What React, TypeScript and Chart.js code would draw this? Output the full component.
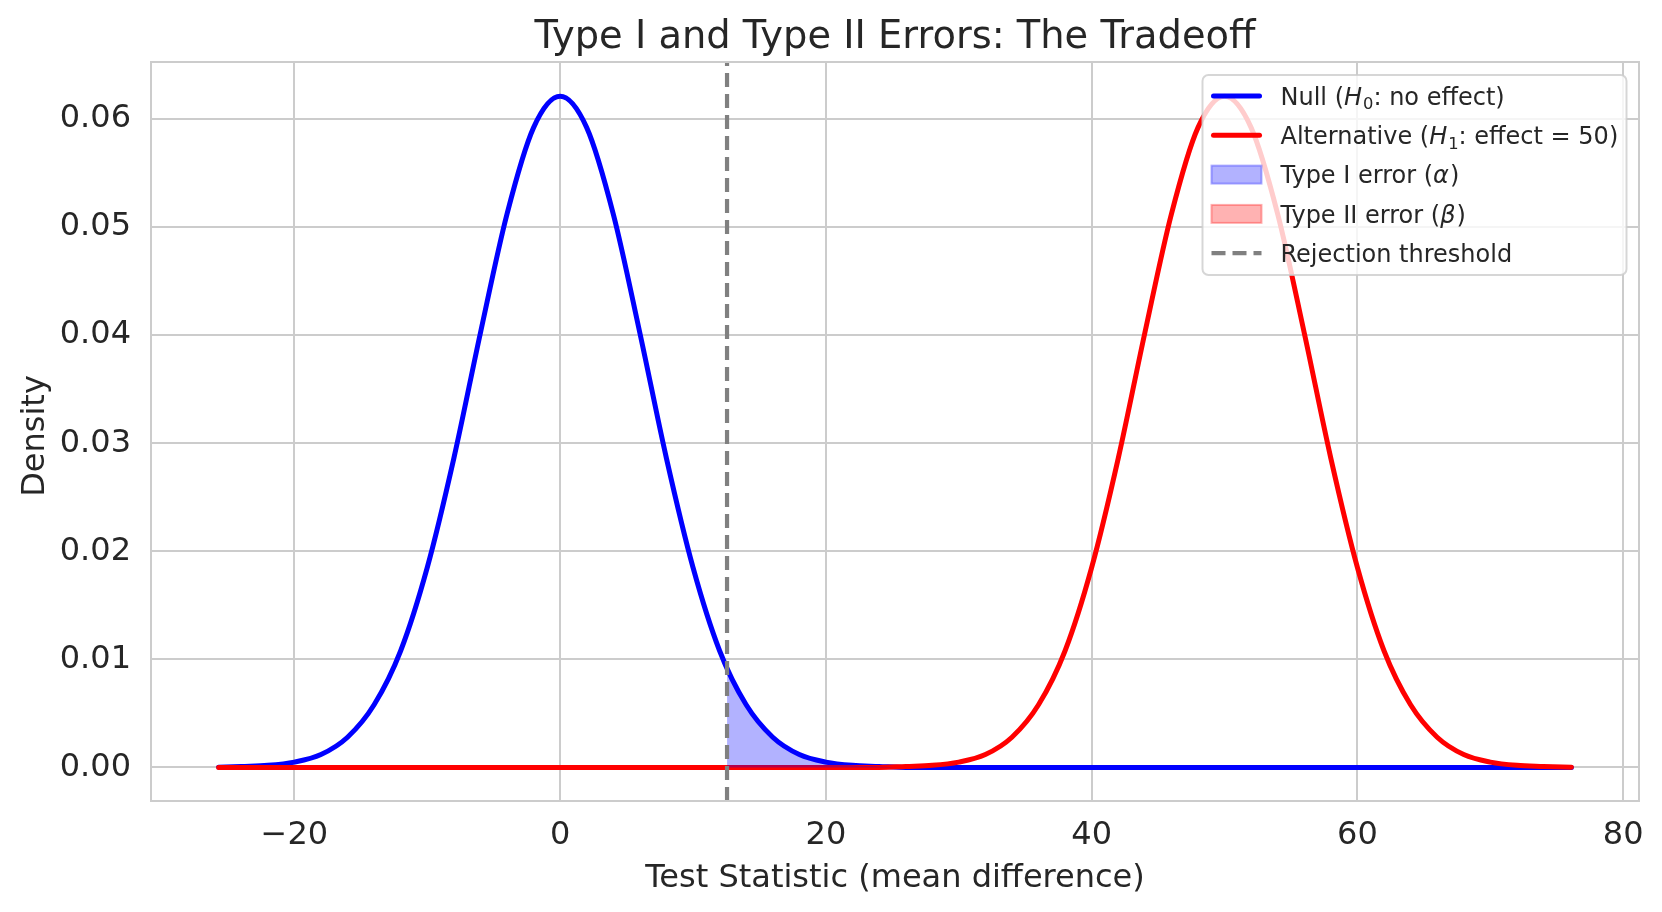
import React, { useEffect, useRef } from 'react';
import { Chart, registerables } from 'chart.js';

Chart.register(...registerables);

// ---- data ----
const X_VALUES = [
  -25.7, -24, -22, -20, -18, -16, -14, -12, -10, -8, -6, -4, -2, 0, 2, 4, 6, 8, 10, 12, 14, 16, 18, 20, 22, 24,
  26, 28, 30, 32, 34, 36, 38, 40, 42, 44, 46, 48, 50, 52, 54, 56, 58, 60, 62, 64, 66, 68, 70, 72, 74, 76.1,
];
const NULL_DENSITY = [
  0.00002, 0.0001, 0.0002, 0.0005, 0.0012, 0.0028, 0.0058, 0.0108, 0.0185, 0.0286, 0.0402, 0.0512, 0.0592, 0.0621,
  0.0592, 0.0512, 0.0402, 0.0286, 0.0185, 0.0108, 0.0058, 0.0028, 0.0012, 0.0005, 0.0002, 0.0001,
  0, 0, 0, 0, 0, 0, 0, 0, 0, 0, 0, 0, 0, 0, 0, 0, 0, 0, 0, 0, 0, 0, 0, 0, 0, 0,
];
const ALT_DENSITY = [
  0, 0, 0, 0, 0, 0, 0, 0, 0, 0, 0, 0, 0, 0, 0, 0, 0, 0, 0, 0, 0, 0, 0, 0, 0, 0,
  0.0001, 0.0002, 0.0005, 0.0012, 0.0028, 0.0058, 0.0108, 0.0185, 0.0286, 0.0402, 0.0512, 0.0592, 0.0621,
  0.0592, 0.0512, 0.0402, 0.0286, 0.0185, 0.0108, 0.0058, 0.0028, 0.0012, 0.0005, 0.0002, 0.0001, 0.00002,
];
const THRESHOLD = 12.56;
const TYPE1_X = [
  12.56, 14, 16, 18, 20, 22, 24, 26, 28, 30, 32, 34, 36, 38, 40, 42, 44, 46, 48, 50, 52, 54, 56, 58, 60, 62, 64,
  66, 68, 70, 72, 74, 76.1,
];
const TYPE1_DENSITY = [
  0.0091, 0.0058, 0.0028, 0.0012, 0.0005, 0.0002, 0.0001,
  0, 0, 0, 0, 0, 0, 0, 0, 0, 0, 0, 0, 0, 0, 0, 0, 0, 0, 0, 0, 0, 0, 0, 0, 0, 0,
];
const TYPE2_X = [-25.7, -24, -22, -20, -18, -16, -14, -12, -10, -8, -6, -4, -2, 0, 2, 4, 6, 8, 10, 12, 12.56];
const TYPE2_DENSITY = [0, 0, 0, 0, 0, 0, 0, 0, 0, 0, 0, 0, 0, 0, 0, 0, 0, 0, 0, 0, 0];

const X_TICKS = [-20, 0, 20, 40, 60, 80];
const Y_TICKS = [0, 0.01, 0.02, 0.03, 0.04, 0.05, 0.06];
const X_MIN = -30.79;
const X_MAX = 81.19;
const Y_MIN = -0.0031;
const Y_MAX = 0.06527;

const TITLE = 'Type I and Type II Errors: The Tradeoff';
const X_LABEL = 'Test Statistic (mean difference)';
const Y_LABEL = 'Density';

type Seg = { t: string; it?: boolean; sub?: boolean };
const LEGEND_LABELS: Seg[][] = [
  [{ t: 'Null (' }, { t: 'H', it: true }, { t: '0', sub: true }, { t: ': no effect)' }],
  [{ t: 'Alternative (' }, { t: 'H', it: true }, { t: '1', sub: true }, { t: ': effect = 50)' }],
  [{ t: 'Type I error (' }, { t: 'α', it: true }, { t: ')' }],
  [{ t: 'Type II error (' }, { t: 'β', it: true }, { t: ')' }],
  [{ t: 'Rejection threshold' }],
];

const FONT = '"DejaVu Sans", "Liberation Sans", sans-serif';
const TEXT = '#262626';
const GRID = '#cccccc';
const BLUE = '#0000ff';
const RED = '#ff0000';
const GRAY = '#808080';
const BLUE_FILL = 'rgba(0,0,255,0.3)';
const RED_FILL = 'rgba(255,0,0,0.3)';
const DASH = [14, 7];

const pts = (xs: number[], ys: number[]) => xs.map((x, i) => ({ x, y: ys[i] }));

function drawRich(ctx: CanvasRenderingContext2D, segs: Seg[], x: number, baseline: number, size: number) {
  let cx = x;
  for (const s of segs) {
    const fs = s.sub ? size * 0.68 : size;
    ctx.font = `${s.it ? 'italic ' : ''}${fs}px ${FONT}`;
    const dy = s.sub ? size * 0.19 : 0;
    ctx.fillText(s.t, cx, baseline + dy);
    cx += ctx.measureText(s.t).width + (s.it ? 1 : 0);
  }
}

const decorPlugin = {
  id: 'decor',
  afterDatasetsDraw(chart: any) {
    const { ctx, chartArea: a } = chart;
    ctx.save();
    ctx.strokeStyle = GRID;
    ctx.lineWidth = 2;
    ctx.strokeRect(a.left, a.top, a.right - a.left, a.bottom - a.top);
    ctx.restore();
  },
  afterDraw(chart: any) {
    const { ctx, chartArea: a } = chart;
    ctx.save();
    // title
    ctx.fillStyle = TEXT;
    ctx.font = `38.4px ${FONT}`;
    ctx.textAlign = 'center';
    ctx.textBaseline = 'alphabetic';
    ctx.fillText(TITLE, (a.left + a.right) / 2, 48);

    // y axis label
    ctx.save();
    ctx.translate(35.5, (a.top + a.bottom) / 2 + 4.5);
    ctx.rotate(-Math.PI / 2);
    ctx.font = `32px ${FONT}`;
    ctx.textAlign = 'center';
    ctx.textBaseline = 'middle';
    ctx.fillText(Y_LABEL, 0, 0);
    ctx.restore();

    // legend
    const bx = 1202.5, by = 75, bw = 424, bh = 200, r = 6;
    ctx.beginPath();
    ctx.moveTo(bx + r, by);
    ctx.arcTo(bx + bw, by, bx + bw, by + bh, r);
    ctx.arcTo(bx + bw, by + bh, bx, by + bh, r);
    ctx.arcTo(bx, by + bh, bx, by, r);
    ctx.arcTo(bx, by, bx + bw, by, r);
    ctx.closePath();
    ctx.fillStyle = 'rgba(255,255,255,0.8)';
    ctx.fill();
    ctx.strokeStyle = 'rgba(204,204,204,0.8)';
    ctx.lineWidth = 2;
    ctx.stroke();

    const size = 24;
    const hx0 = 1211.5, hx1 = 1261.5;
    LEGEND_LABELS.forEach((segs, i) => {
      const cy = 96 + i * 39.3;
      ctx.save();
      if (i < 2) {
        ctx.strokeStyle = i === 0 ? BLUE : RED;
        ctx.lineWidth = 5;
        ctx.lineCap = 'round';
        ctx.beginPath();
        ctx.moveTo(hx0 + 2, cy);
        ctx.lineTo(hx1 - 2, cy);
        ctx.stroke();
      } else if (i < 4) {
        ctx.fillStyle = i === 2 ? BLUE_FILL : RED_FILL;
        ctx.fillRect(hx0, cy - 9, hx1 - hx0, 18);
        ctx.strokeStyle = i === 2 ? BLUE_FILL : RED_FILL;
        ctx.lineWidth = 2;
        ctx.strokeRect(hx0, cy - 9, hx1 - hx0, 18);
      } else {
        ctx.strokeStyle = GRAY;
        ctx.lineWidth = 4.2;
        ctx.setLineDash(DASH);
        ctx.beginPath();
        ctx.moveTo(hx0, cy);
        ctx.lineTo(hx1, cy);
        ctx.stroke();
      }
      ctx.restore();
      ctx.fillStyle = TEXT;
      ctx.textAlign = 'left';
      ctx.textBaseline = 'alphabetic';
      drawRich(ctx, segs, 1280.5, cy + 8.7, size);
    });
    ctx.restore();
  },
};

export default function App() {
  const ref = useRef<HTMLCanvasElement>(null);
  useEffect(() => {
    const canvas = ref.current;
    if (!canvas) return;
    const chart = new Chart(canvas, {
      type: 'line',
      data: {
        datasets: [
          {
            label: 'Rejection threshold',
            data: [
              { x: THRESHOLD, y: Y_MIN },
              { x: THRESHOLD, y: Y_MAX },
            ],
            borderColor: GRAY,
            borderWidth: 4.2,
            borderDash: DASH,
            pointRadius: 0,
            fill: false,
            order: 0,
          },
          {
            label: 'Type II error',
            data: pts(TYPE2_X, TYPE2_DENSITY),
            borderWidth: 0,
            borderColor: 'rgba(0,0,0,0)',
            backgroundColor: RED_FILL,
            pointRadius: 0,
            fill: 'origin',
            cubicInterpolationMode: 'monotone',
            order: 1,
          },
          {
            label: 'Type I error',
            data: pts(TYPE1_X, TYPE1_DENSITY),
            borderWidth: 0,
            borderColor: 'rgba(0,0,0,0)',
            backgroundColor: BLUE_FILL,
            pointRadius: 0,
            fill: 'origin',
            cubicInterpolationMode: 'monotone',
            order: 2,
          },
          {
            label: 'Alternative',
            data: pts(X_VALUES, ALT_DENSITY),
            borderColor: RED,
            borderWidth: 5,
            pointRadius: 0,
            fill: false,
            cubicInterpolationMode: 'monotone',
            borderCapStyle: 'round',
            order: 3,
          },
          {
            label: 'Null',
            data: pts(X_VALUES, NULL_DENSITY),
            borderColor: BLUE,
            borderWidth: 5,
            pointRadius: 0,
            fill: false,
            cubicInterpolationMode: 'monotone',
            borderCapStyle: 'round',
            order: 4,
          },
        ],
      },
      options: {
        animation: false,
        responsive: false,
        devicePixelRatio: 1,
        events: [],
        layout: { padding: { top: 62, right: 23, left: 0, bottom: 0 } },
        plugins: {
          legend: { display: false },
          tooltip: { enabled: false },
          title: { display: false },
        },
        scales: {
          x: {
            type: 'linear',
            min: X_MIN,
            max: X_MAX,
            afterBuildTicks: (scale: any) => {
              scale.ticks = X_TICKS.map((v) => ({ value: v }));
            },
            afterFit: (scale: any) => {
              scale.height = 111;
            },
            grid: { color: GRID, lineWidth: 2, drawTicks: false },
            border: { display: false },
            ticks: {
              padding: 15.5,
              color: TEXT,
              font: { family: FONT, size: 32 },
              maxRotation: 0,
              autoSkip: false,
              callback: (v: any) => (Number(v) < 0 ? '\u2212' + Math.abs(Number(v)) : String(v)),
            },
            title: {
              display: true,
              text: X_LABEL,
              color: TEXT,
              font: { family: FONT, size: 32 },
              padding: { top: 0, bottom: 14 },
            },
          },
          y: {
            type: 'linear',
            min: Y_MIN,
            max: Y_MAX,
            afterBuildTicks: (scale: any) => {
              scale.ticks = Y_TICKS.map((v) => ({ value: v }));
            },
            afterFit: (scale: any) => {
              scale.width = 151;
            },
            grid: { color: GRID, lineWidth: 2, drawTicks: false },
            border: { display: false },
            ticks: {
              padding: 20,
              color: TEXT,
              font: { family: FONT, size: 32 },
              autoSkip: false,
              callback: (v: any) => Number(v).toFixed(2),
            },
            title: { display: false },
          },
        },
      } as any,
      plugins: [decorPlugin as any],
    });
    return () => chart.destroy();
  }, []);

  return (
    <div style={{ position: 'absolute', left: 0, top: 0, width: 1662, height: 912, background: '#ffffff' }}>
      <canvas ref={ref} width={1662} height={912} style={{ width: 1662, height: 912, display: 'block' }} />
    </div>
  );
}
